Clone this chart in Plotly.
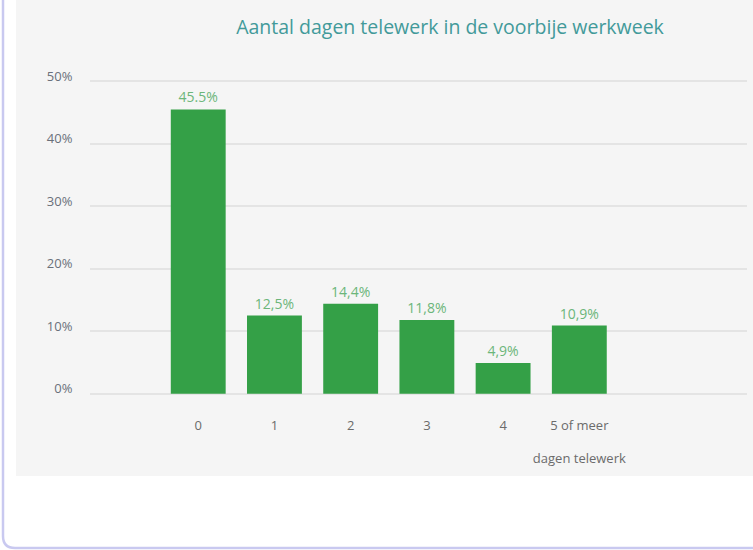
import plotly.graph_objects as go

categories = ["0", "1", "2", "3", "4", "5 of meer<br><br>dagen telewerk"]
values = [45.5, 12.5, 14.4, 11.8, 4.9, 10.9]
value_labels = ["45.5%", "12,5%", "14,4%", "11,8%", "4,9%", "10,9%"]
y_ticks = [0, 10, 20, 30, 40, 50]
y_tick_labels = ["0%", "10%", "20%", "30%", "40%", "50%"]
title_text = "Aantal dagen telewerk in de voorbije werkweek"

W, H = 753, 550
FONT = "Open Sans"

def px(x):
    return x / W

def py(y):
    return 1 - y / H

fig = go.Figure()
fig.add_trace(go.Bar(
    x=list(range(len(categories))),
    y=values,
    text=value_labels,
    textposition="outside",
    textfont=dict(family=FONT, size=14, color="#6cb67a"),
    marker=dict(color="#34a047", line=dict(width=0)),
    width=0.72,
    cliponaxis=False,
    hoverinfo="skip",
))

# rounded card border (left + bottom visible)
r = 12
bx, by = 3, 548
border_path = (
    f"M {px(bx)} {py(-5)} L {px(bx)} {py(by - r)} "
    f"Q {px(bx)} {py(by)} {px(bx + r)} {py(by)} L {px(W + 5)} {py(by)}"
)

fig.update_layout(
    width=W, height=H, autosize=False,
    margin=dict(l=0, r=0, t=0, b=0),
    paper_bgcolor="white",
    plot_bgcolor="rgba(0,0,0,0)",
    showlegend=False,
    font=dict(family=FONT),
    title=dict(text=title_text, x=450 / W, xanchor="center", y=py(27), yanchor="middle",
               font=dict(family=FONT, size=19.5, color="#429a9a")),
    xaxis=dict(
        domain=[px(90), px(747)],
        range=[-1.42, 7.2],
        automargin=False,
        tickmode="array",
        tickvals=list(range(len(categories))),
        ticktext=categories,
        ticks="outside", ticklen=18, tickcolor="rgba(0,0,0,0)",
        tickfont=dict(family=FONT, size=13, color="#6b6b6b"),
        showgrid=False, zeroline=False, showline=False,
    ),
    yaxis=dict(
        domain=[1 - 395 / H, 1 - 80 / H],
        range=[-0.2, 50.2],
        automargin=False,
        tickmode="array",
        tickvals=y_ticks,
        ticktext=y_tick_labels,
        ticks="outside", ticklen=14, tickcolor="rgba(0,0,0,0)",
        ticklabelshift=-5,
        tickfont=dict(family=FONT, size=13, color="#6a707a"),
        showgrid=True, gridcolor="#e4e4e4", gridwidth=2,
        zeroline=False, showline=False,
    ),
    shapes=[
        dict(type="rect", xref="paper", yref="paper", x0=px(16), x1=px(W + 2), y0=py(476), y1=py(0),
             fillcolor="#f5f5f5", line=dict(width=0), layer="below"),
        dict(type="path", xref="paper", yref="paper", path=border_path,
             line=dict(color="#c9c9f0", width=2.5), layer="above"),
    ],
    bargap=0.28,
)

fig.write_html(
    "out.html",
    config={"displayModeBar": False, "responsive": False, "staticPlot": True},
    post_script="document.body.style.margin='0';document.body.style.overflow='hidden';",
)
